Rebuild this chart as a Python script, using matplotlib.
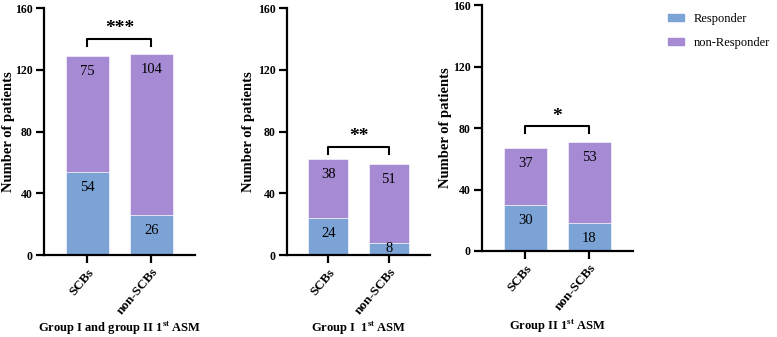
import matplotlib
matplotlib.use("Agg")
import matplotlib.pyplot as plt
from matplotlib.patches import Patch
import numpy as np

plt.rcParams['font.family'] = ['Liberation Serif', 'DejaVu Serif']

categories = ['SCBs', 'non-SCBs']
titles = ['Group I and group II 1$^{\\mathregular{st}}$ ASM',
          'Group I  1$^{\\mathregular{st}}$ ASM',
          'Group II 1$^{\\mathregular{st}}$ ASM']
responder = [[54, 26], [24, 8], [30, 18]]
non_responder = [[75, 104], [38, 51], [37, 53]]
stars = ['***', '**', '*']
bracket_y = [140, 70, 81]
yticks = [0, 40, 80, 120, 160]

blue = '#7ba3d6'
purple = '#a68bd4'

fig = plt.figure(figsize=(7.77, 3.37), dpi=100)
boxes = [[0.0566, 0.2433, 0.1943, 0.7329],
         [0.3694, 0.2433, 0.1840, 0.7329],
         [0.6203, 0.2552, 0.1943, 0.7299]]
ylab_x = [-0.19, -0.224, -0.2]
title_y = [-0.263, -0.263, -0.272]

for i in range(3):
    ax = fig.add_axes(boxes[i])
    x = np.arange(len(categories))
    r = np.array(responder[i])
    n = np.array(non_responder[i])
    ax.bar(x, r, width=0.66, color=blue, edgecolor='white', linewidth=0.4)
    ax.bar(x, n, bottom=r, width=0.66, color=purple, edgecolor='white', linewidth=0.4)
    for j in range(len(x)):
        ax.text(x[j], max(r[j] - 10, 4), str(r[j]), ha='center', va='center', fontsize=10.5)
        ax.text(x[j], r[j] + n[j] - 10, str(n[j]), ha='center', va='center', fontsize=10.5)

    # significance bracket
    b = bracket_y[i]
    ax.plot([0, 0, 1, 1], [b - 4.5, b, b, b - 4.5], color='black', lw=1.5, clip_on=False)
    ax.text(0.5, b + 1, stars[i], ha='center', va='bottom', fontsize=14, fontweight='bold')

    ax.set_ylim(0, 160)
    ax.set_xlim(-0.68, 1.68)
    ax.set_yticks(yticks)
    ax.set_xticks(x)
    ax.set_xticklabels(categories, rotation=50, ha='right', rotation_mode='anchor',
                       fontweight='bold', fontsize=9.5)
    for lab in ax.get_yticklabels():
        lab.set_fontweight('bold')
        lab.set_fontsize(8.5)
    ax.tick_params(axis='both', direction='out', width=1.6, length=6, pad=2)
    ax.spines['top'].set_visible(False)
    ax.spines['right'].set_visible(False)
    ax.spines['left'].set_linewidth(1.6)
    ax.spines['bottom'].set_linewidth(1.6)
    ax.set_ylabel('Number of patients', fontweight='bold', fontsize=10.5)
    ax.yaxis.set_label_coords(ylab_x[i], 0.5)
    ax.set_xlabel(titles[i], fontweight='bold', fontsize=9, va='top')
    ax.xaxis.set_label_coords(0.5, title_y[i])

handles = [Patch(color=blue, label='Responder'), Patch(color=purple, label='non-Responder')]
fig.legend(handles=handles, loc='upper left', bbox_to_anchor=(0.845, 0.995), frameon=False,
           fontsize=9, handlelength=1.3, handleheight=0.55, handletextpad=0.8,
           labelspacing=0.95)

fig.savefig('out.png', dpi=100)
